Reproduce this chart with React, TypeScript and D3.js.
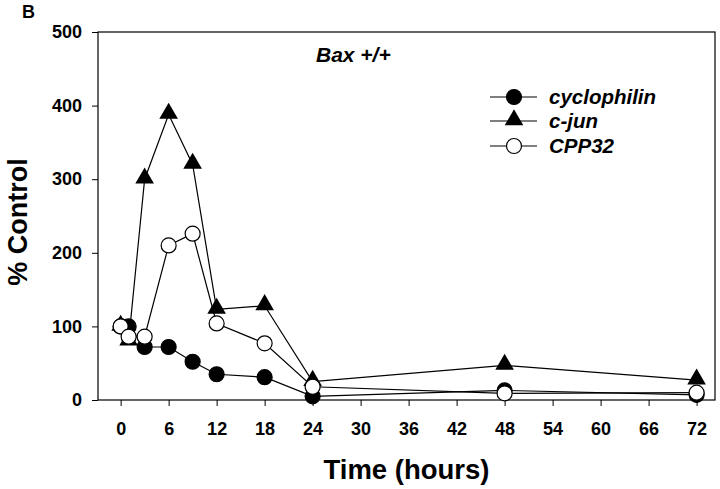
import React, { useEffect, useRef } from 'react';
import * as d3 from 'd3';

// hours sampled
const hours = [0, 1, 3, 6, 9, 12, 18, 24, 48, 72];
const cyclophilin = [100, 100, 72, 72, 52, 35, 31, 5, 13, 7];
const cjun = [100, 80, 300, 388, 320, 123, 128, 25, 47, 27];
const cpp32 = [100, 86, 86, 210, 226, 104, 77, 18, 9, 10];

const xTicks = [0, 6, 12, 18, 24, 30, 36, 42, 48, 54, 60, 66, 72];
const yTicks = [0, 100, 200, 300, 400, 500];
const seriesNames = ['cyclophilin', 'c-jun', 'CPP32'];

const FONT = 'Liberation Sans, Arial, sans-serif';

export default function App() {
    const svgRef = useRef<SVGSVGElement>(null);

    useEffect(() => {
        if (!svgRef.current) return;
        const svg = d3.select(svgRef.current);
        svg.selectAll('*').remove();

        const left = 98, right = 715, top = 32, bottom = 400;

        const x = d3.scaleLinear().domain([-2.83, 74.3]).range([left, right]);
        const y = d3.scaleLinear().domain([0, 500]).range([bottom, top]);

        // frame
        svg.append('rect')
            .attr('x', left).attr('y', top)
            .attr('width', right - left).attr('height', bottom - top)
            .attr('fill', 'none').attr('stroke', '#000').attr('stroke-width', 1.2);

        // x axis
        const xAxis = svg.append('g').attr('transform', `translate(0,${bottom})`)
            .call(d3.axisBottom(x).tickValues(xTicks).tickSize(6).tickPadding(16));
        xAxis.select('.domain').remove();
        xAxis.selectAll('text')
            .attr('font-family', FONT).attr('font-size', 18).attr('font-weight', 'bold').attr('fill', '#000');

        // y axis
        const yAxis = svg.append('g').attr('transform', `translate(${left},0)`)
            .call(d3.axisLeft(y).tickValues(yTicks).tickSize(6).tickPadding(10));
        yAxis.select('.domain').remove();
        yAxis.selectAll('text')
            .attr('font-family', FONT).attr('font-size', 18).attr('font-weight', 'bold').attr('fill', '#000');

        const line = d3.line<number>().x((_, i) => x(hours[i])).y(d => y(d));

        const tri = d3.symbol().type(d3.symbolTriangle).size(150);
        const drawSeries = (vals: number[], kind: string) => {
            svg.append('path').attr('d', line(vals)).attr('fill', 'none')
                .attr('stroke', '#000').attr('stroke-width', 1.2);
            vals.forEach((v, i) => {
                if (kind === 'tri') {
                    svg.append('path').attr('d', tri())
                        .attr('transform', `translate(${x(hours[i])},${y(v) - 1})`)
                        .attr('fill', '#000');
                } else {
                    svg.append('circle').attr('cx', x(hours[i])).attr('cy', y(v)).attr('r', 7.5)
                        .attr('fill', kind === 'open' ? '#fff' : '#000')
                        .attr('stroke', '#000').attr('stroke-width', 1.2);
                }
            });
        };
        drawSeries(cyclophilin, 'filled');
        drawSeries(cjun, 'tri');
        drawSeries(cpp32, 'open');

        // legend
        const kinds = ['filled', 'tri', 'open'];
        const rowsY = [97, 121, 146];
        seriesNames.forEach((name, i) => {
            const ry = rowsY[i];
            svg.append('line').attr('x1', 490).attr('x2', 537).attr('y1', ry).attr('y2', ry)
                .attr('stroke', '#000').attr('stroke-width', 1.2);
            if (kinds[i] === 'tri') {
                svg.append('path').attr('d', tri()).attr('transform', `translate(514,${ry - 1})`).attr('fill', '#000');
            } else {
                svg.append('circle').attr('cx', 514).attr('cy', ry).attr('r', 7.5)
                    .attr('fill', kinds[i] === 'open' ? '#fff' : '#000')
                    .attr('stroke', '#000').attr('stroke-width', 1.2);
            }
            svg.append('text').attr('x', 549).attr('y', ry + 6.5)
                .attr('font-family', FONT).attr('font-size', 20.5).attr('font-weight', 'bold')
                .attr('font-style', 'italic').text(name);
        });

        svg.append('text').attr('x', 316).attr('y', 62)
            .attr('font-family', FONT).attr('font-size', 21).attr('font-weight', 'bold')
            .attr('font-style', 'italic').text('Bax +/+');

        svg.append('text').attr('x', 22).attr('y', 18)
            .attr('font-family', FONT).attr('font-size', 18).attr('font-weight', 'bold').text('B');

        svg.append('text').attr('x', (left + right) / 2).attr('y', 479)
            .attr('text-anchor', 'middle')
            .attr('font-family', FONT).attr('font-size', 27.5).attr('font-weight', 'bold').text('Time (hours)');

        svg.append('text').attr('transform', `translate(27,222) rotate(-90)`)
            .attr('text-anchor', 'middle')
            .attr('font-family', FONT).attr('font-size', 27).attr('font-weight', 'bold').text('% Control');
    }, []);

    return <svg ref={svgRef} width={720} height={489} style={{ position: 'absolute', left: 0, top: 0, background: '#fff' }} />;
}
